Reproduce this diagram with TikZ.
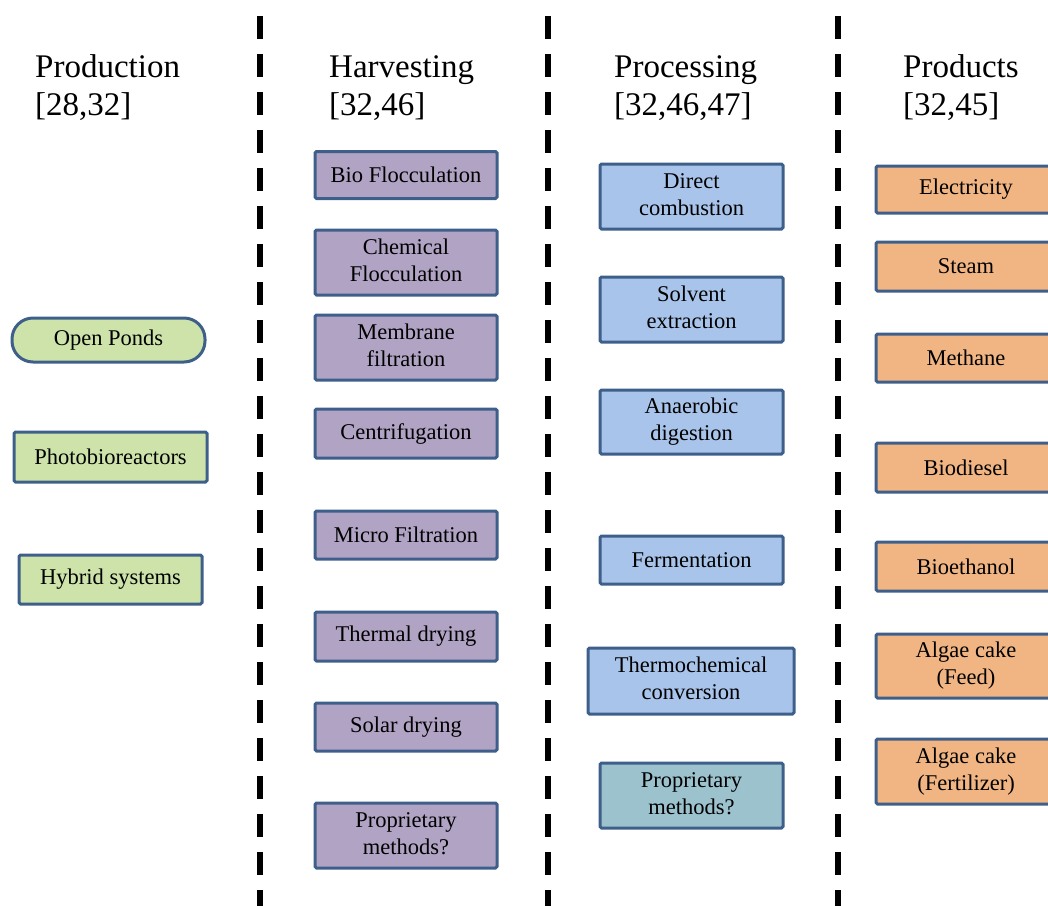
\documentclass[tikz,border=0pt]{standalone}
\usepackage{fontspec}
\setmainfont{Liberation Serif}
\newfontfamily\boxfont{Liberation Serif}
\definecolor{bordc}{HTML}{3E5F8A}
\definecolor{greenf}{HTML}{CDE3A9}
\definecolor{purplef}{HTML}{B1A3C4}
\definecolor{bluef}{HTML}{A8C4EA}
\definecolor{orangef}{HTML}{F1B584}
\definecolor{tealf}{HTML}{9CC2CE}
\newcommand{\Tx}[1]{\begin{tabular}{@{}c@{}}#1\end{tabular}}
\tikzset{
  box/.style={draw=bordc, line width=3pt, rounded corners=1.5pt, inner sep=0pt,
    font=\boxfont\fontsize{22.5}{27}\selectfont, align=center},
  prodbox/.style={box, fill=greenf},
  harvbox/.style={box, fill=purplef, minimum width=182pt},
  procbox/.style={box, fill=bluef, minimum width=183pt},
  outbox/.style={box, fill=orangef, minimum width=180pt},
  head/.style={anchor=base west, inner sep=0pt, font=\boxfont\fontsize{33}{38}\selectfont},
  divider/.style={line width=6pt, dash pattern=on 23pt off 15pt, dash phase=0pt}
}
\begin{document}
\begin{tikzpicture}[x=1pt,y=-1pt]
\useasboundingbox (0,0) rectangle (1048,905);
\clip (0,0) rectangle (1048,905);
% dividers
\coordinate (d1t) at (259.5,16); \coordinate (d1b) at (259.5,910);
\coordinate (d2t) at (548,16); \coordinate (d2b) at (548,910);
\coordinate (d3t) at (838,16); \coordinate (d3b) at (838,910);
\draw[divider] (d1t) -- (d1b);
\draw[divider] (d2t) -- (d2b);
\draw[divider] (d3t) -- (d3b);
% headings
\node[head] (h1) at (35,77) {Production};
\node[head] (h1r) at (35,115) {[28,32]};
\node[head] (h2) at (329,77) {Harvesting};
\node[head] (h2r) at (329,115) {[32,46]};
\node[head] (h3) at (614,77) {Processing};
\node[head] (h3r) at (614,115) {[32,46,47]};
\node[head] (h4) at (903,77) {Products};
\node[head] (h4r) at (903,115) {[32,45]};
% production
\node[prodbox, rounded corners=21pt, minimum width=193pt, minimum height=44pt] (p1) at (108.5,340) {Open Ponds};
\node[prodbox, minimum width=193pt, minimum height=50pt] (p2) at (110.5,457) {Photobioreactors};
\node[prodbox, minimum width=183pt, minimum height=49pt] (p3) at (110.5,579.5) {Hybrid systems};
% harvesting
\node[harvbox, minimum height=47pt] (hv1) at (406,175) {Bio Flocculation};
\node[harvbox, minimum height=65pt] (hv2) at (406,262.5) {\Tx{Chemical\\Flocculation}};
\node[harvbox, minimum height=65pt] (hv3) at (406,347.5) {\Tx{Membrane\\filtration}};
\node[harvbox, minimum height=49pt] (hv4) at (406,433.5) {Centrifugation};
\node[harvbox, minimum height=48pt] (hv5) at (406,535) {Micro Filtration};
\node[harvbox, minimum height=49pt] (hv6) at (406,636.5) {Thermal drying};
\node[harvbox, minimum height=48pt] (hv7) at (406,727) {Solar drying};
\node[harvbox, minimum height=65pt] (hv8) at (406,835.5) {\Tx{Proprietary\\methods?}};
% processing
\node[procbox, minimum height=65pt] (pr1) at (691.5,196.5) {\Tx{Direct\\combustion}};
\node[procbox, minimum height=65pt] (pr2) at (691.5,309.5) {\Tx{Solvent\\extraction}};
\node[procbox, minimum height=64pt] (pr3) at (691.5,422) {\Tx{Anaerobic\\digestion}};
\node[procbox, minimum height=48pt] (pr4) at (691.5,560) {Fermentation};
\node[procbox, minimum width=206pt, minimum height=66pt] (pr5) at (691,681) {\Tx{Thermochemical\\conversion}};
\node[procbox, fill=tealf, minimum height=65pt] (pr6) at (691.5,795.5) {\Tx{Proprietary\\methods?}};
% products
\node[outbox, minimum height=47pt] (o1) at (966,189.5) {Electricity};
\node[outbox, minimum height=49pt] (o2) at (966,266.5) {Steam};
\node[outbox, minimum height=48pt] (o3) at (966,358) {Methane};
\node[outbox, minimum height=49pt] (o4) at (966,467.5) {Biodiesel};
\node[outbox, minimum height=49pt] (o5) at (966,566.5) {Bioethanol};
\node[outbox, minimum height=64pt] (o6) at (966,666) {\Tx{Algae cake\\(Feed)}};
\node[outbox, minimum height=65pt] (o7) at (966,771.5) {\Tx{Algae cake\\(Fertilizer)}};
\end{tikzpicture}
\end{document}
